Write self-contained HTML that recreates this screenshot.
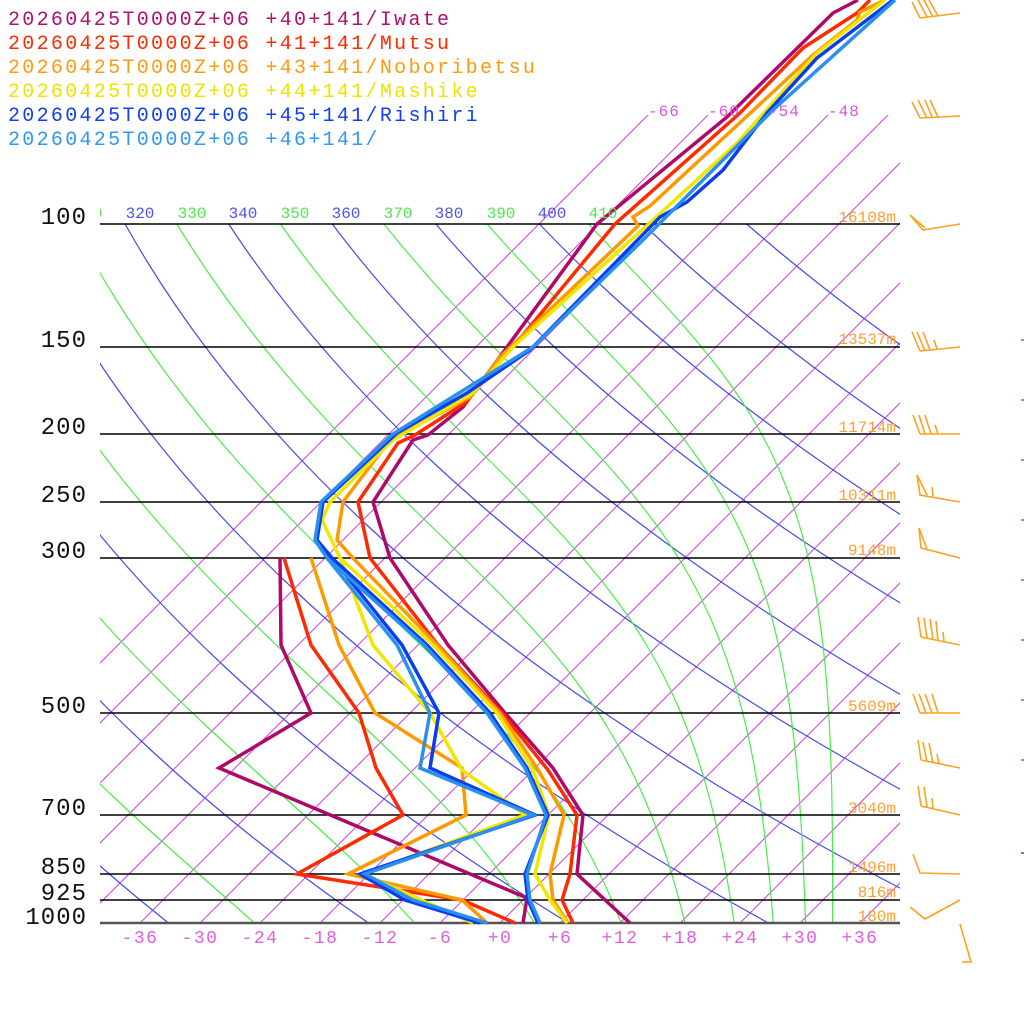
<!DOCTYPE html>
<html><head><meta charset="utf-8"><style>
html,body{margin:0;padding:0;background:#fff;}
svg{display:block;}
text{font-family:"Liberation Mono","DejaVu Sans Mono",monospace;}
</style></head><body>
<svg id="s" width="1024" height="1024" viewBox="0 0 1024 1024" xmlns="http://www.w3.org/2000/svg">
<defs>
<clipPath id="ciso"><rect x="100" y="115" width="800" height="808"/></clipPath>
<clipPath id="cad"><rect x="100" y="224" width="800" height="699"/></clipPath>
<clipPath id="clab"><rect x="100" y="190" width="800" height="40"/></clipPath>
</defs>
<g id="iso" clip-path="url(#ciso)" stroke="#cc44dd" stroke-width="1" fill="none"></g>
<g id="ad" clip-path="url(#cad)" fill="none" stroke-width="1.2"></g>
<g id="lev" stroke="#000" stroke-width="1.5"></g>
<g id="tr" fill="none" stroke-width="3.5" stroke-linejoin="miter"></g>
<g id="barb" fill="none" stroke="#ffa020" stroke-width="1.6"></g>
<g id="txt"></g>
<g font-size="20" letter-spacing="2.3">
<text x="8" y="25" fill="#b01070">20260425T0000Z+06 +40+141/Iwate</text>
<text x="8" y="49" fill="#ff2a00">20260425T0000Z+06 +41+141/Mutsu</text>
<text x="8" y="73" fill="#ff9a10">20260425T0000Z+06 +43+141/Noboribetsu</text>
<text x="8" y="97" fill="#ece400">20260425T0000Z+06 +44+141/Mashike</text>
<text x="8" y="121" fill="#1040f0">20260425T0000Z+06 +45+141/Rishiri</text>
<text x="8" y="145" fill="#3098f0">20260425T0000Z+06 +46+141/</text>
</g>
<g font-size="24" letter-spacing="1" fill="#111" text-anchor="end">
<text x="87" y="224">100</text>
<text x="87" y="347">150</text>
<text x="87" y="434">200</text>
<text x="87" y="502">250</text>
<text x="87" y="558">300</text>
<text x="87" y="713">500</text>
<text x="87" y="815">700</text>
<text x="87" y="874">850</text>
<text x="87" y="900">925</text>
<text x="87" y="924">1000</text>
</g>
<g font-size="16" fill="#ffa030" text-anchor="end">
<text x="896" y="222">16108m</text>
<text x="896" y="344">13537m</text>
<text x="896" y="432">11714m</text>
<text x="896" y="500">10311m</text>
<text x="896" y="555">9148m</text>
<text x="896" y="711">5609m</text>
<text x="896" y="813">3040m</text>
<text x="896" y="872">1496m</text>
<text x="896" y="897">816m</text>
<text x="896" y="921">180m</text>
</g>
<g font-size="16" fill="#dd55dd" letter-spacing="1">
<text x="648" y="116">-66</text>
<text x="708" y="116">-60</text>
<text x="768" y="116">-54</text>
<text x="828" y="116">-48</text>
</g>
</svg>
<script>
(function(){
var NS="http://www.w3.org/2000/svg";
function el(g,tag,attrs,txt){var e=document.createElementNS(NS,tag);for(var k in attrs)e.setAttribute(k,attrs[k]);if(txt!==undefined)e.textContent=txt;document.getElementById(g).appendChild(e);return e;}
function X(T,y){return 500+10*T+(923-y);}
function P(y){return 1000*Math.exp(-(923-y)/303.6);}
for(var T=-66;T<=36;T+=6){var x1=500+10*T;el("iso","line",{x1:x1,y1:923,x2:x1+808,y2:115});}
function pts(f){var s="";for(var y=224;y<=924;y+=3){var p=P(y);var T=f(p);s+=X(T,y).toFixed(1)+","+y+" ";}return s;}
for(var th=240;th<=440;th+=20){(function(th){el("ad","polyline",{points:pts(function(p){return th*Math.pow(p/1000,0.2857)-273.15;}),stroke:"#4848f0"});})(th);}
function the(TK,p){var Tc=TK-273.15;var es=6.112*Math.exp(17.67*Tc/(Tc+243.5));var rs=0.622*es/(p-es);return TK*Math.pow(1000/p,0.2857)*Math.exp(2.675e6*rs/(1004*TK));}
function solve(te,p){var lo=150,hi=330;for(var i=0;i<50;i++){var m=(lo+hi)/2;if(the(m,p)>te)hi=m;else lo=m;}return (lo+hi)/2-273.15;}
for(var te=250;te<=410;te+=20){(function(te){el("ad","polyline",{points:pts(function(p){return solve(te,p);}),stroke:"#48ee48"});})(te);}
[224,347,434,502,558,713,815,874,900].forEach(function(y){el("lev","line",{x1:100,y1:y,x2:900,y2:y});});
el("lev","line",{x1:100,y1:923,x2:900,y2:923,stroke:"#555","stroke-width":2.5});
var labs=[[310,88,"#50e850"],[320,140,"#5050ee"],[330,192,"#50e850"],[340,243,"#5050ee"],[350,295,"#50e850"],[360,346,"#5050ee"],[370,398,"#50e850"],[380,449,"#5050ee"],[390,501,"#50e850"],[400,552,"#5050ee"],[410,603,"#50e850"]];
var g=el("txt","g",{"clip-path":"url(#clab)","font-size":"16","text-anchor":"middle"});
labs.forEach(function(l){var t=document.createElementNS(NS,"text");t.setAttribute("x",l[1]);t.setAttribute("y",218);t.setAttribute("fill",l[2]);t.textContent=String(l[0]);g.appendChild(t);});
for(var T=-36;T<=36;T+=6){el("txt","text",{x:500+10*T,y:943,"font-size":"18","letter-spacing":"1.5",fill:"#e060e0","text-anchor":"middle"},(T>=0?"+":"")+T);}
var C=["#b00868","#ff2a00","#ff9900","#f0e600","#0a3cf0","#2a90f0"];
var tr=[
[0,"630,923 577,874 583,815 553,768 505,713 448,645 390,558 373,502 413,440 428,435 463,407 507,347 597,224 727,117 833,13 858,0"],
[0,"523,923 527,898 219,768 311,713 281,645 280,558"],
[1,"573,923 562,900 570,874 577,815 548,770 502,713 438,645 370,558 358,502 398,443 415,435 465,403 533,323 615,224 740,113 803,48 857,13 870,0"],
[1,"515,923 462,900 297,874 403,815 376,768 359,713 311,645 284,558"],
[2,"568,923 553,900 550,874 564,815 537,768 500,713 437,645 353,558 337,540 343,502 390,440 470,397 500,357 638,226 633,217 650,206 813,55 857,20 860,12 885,0"],
[2,"487,923 462,900 348,874 466,815 462,768 375,713 339,645 311,558"],
[3,"567,923 550,900 535,874 549,815 533,770 497,713 433,645 340,558 322,520 330,502 393,440 473,393 513,347 653,220 737,143 817,53 885,0"],
[3,"473,923 363,874 525,815 462,770 430,713 373,645 340,558"],
[4,"538,923 528,900 525,874 548,815 527,768 490,713 427,645 332,558 317,540 323,502 397,433 467,393 530,350 660,217 687,202 723,170 767,113 817,58 893,0"],
[4,"480,923 405,900 360,874 535,815 430,768 439,713 402,645 332,558"],
[5,"540,923 530,900 527,874 546,815 525,768 487,713 424,645 327,558 315,540 321,502 393,434 533,347 643,240 773,110 895,0"],
[5,"487,923 413,900 365,874 533,815 420,768 430,713 397,645 327,558"]
];
tr.forEach(function(t){el("tr","polyline",{points:t[1],stroke:C[t[0]]});});
var B=[
"960,13 920,18","912,2 920,18","918,0 927,17","924,0 933,17","929,0 938,16",
"960,116 920,118","912,102 920,118","918,100 927,118","925,100 932,117","930,100 938,117",
"960,224 923,230 910,215 925,228",
"960,347 920,351","912,332 920,351","917,332 925,351","923,332 930,350","934,340 937,349",
"960,434 920,434","913,415 920,434","919,415 925,434","925,415 931,434","935,425 938,434",
"960,502 920,495 917,475 927,495","932,487 933,496",
"960,558 921,548 919,528 927,549",
"960,645 921,637","918,617 921,637","924,618 927,638","930,619 933,640","936,621 938,641","943,632 944,642",
"960,713 920,713","913,694 920,713","919,694 926,713","925,694 932,713","932,694 938,713",
"960,768 921,760","918,740 921,760","923,742 927,762","929,743 933,763","937,754 939,764",
"960,815 921,806","918,786 921,806","924,787 927,807","932,798 933,809",
"960,874 920,873 913,854",
"960,900 925,919 910,907",
"960,924 971,962 962,962"
];
B.forEach(function(b){el("barb","polyline",{points:b});});
[340,400,460,520,580,640,700,760].forEach(function(y){el("barb","line",{x1:1021,y1:y,x2:1024,y2:y,stroke:"#cc44dd"});});
el("barb","line",{x1:1021,y1:853,x2:1024,y2:853,stroke:"#4848f0"});
})();
</script>
</body></html>
